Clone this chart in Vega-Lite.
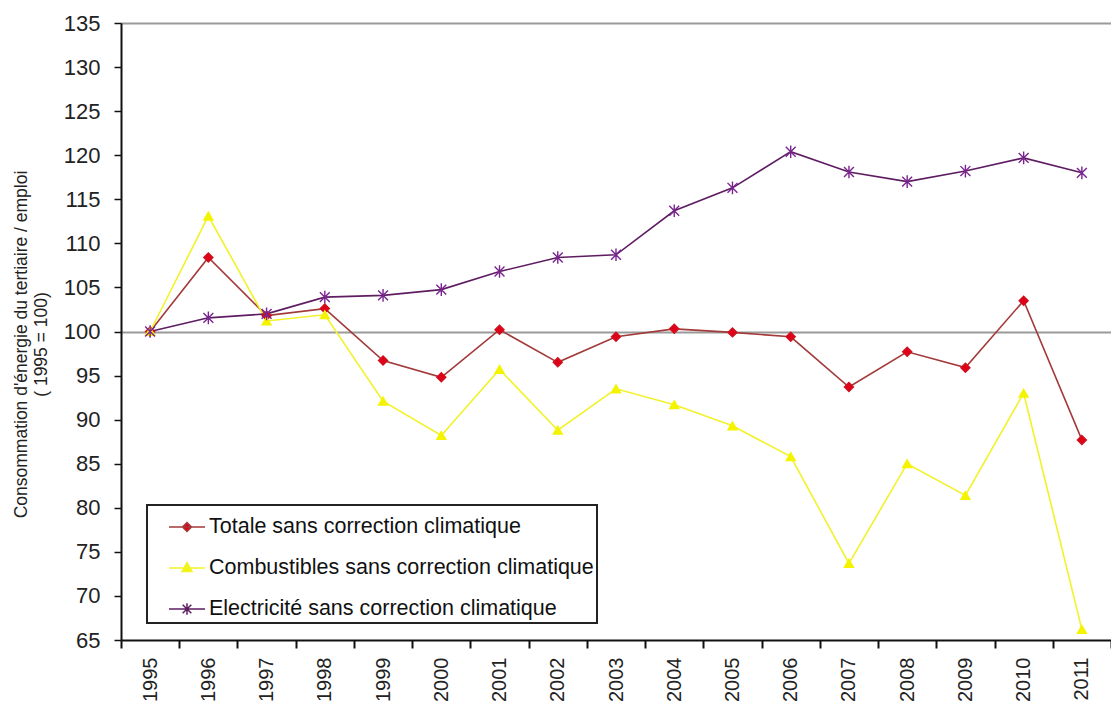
{
  "$schema": "https://vega.github.io/schema/vega-lite/v6.json",
  "width": 990,
  "height": 617,
  "autosize": "none",
  "padding": {"left": 121, "top": 23, "right": 0, "bottom": 69},
  "background": "white",
  "config": {
    "view": {"stroke": null},
    "font": "Liberation Sans",
    "legend": {"strokeColor": "#222", "strokeWidth": 2}
  },
  "data": {
    "values": [
      {"year": "1995", "serie": "Totale sans correction climatique", "value": 100},
      {"year": "1996", "serie": "Totale sans correction climatique", "value": 108.4},
      {"year": "1997", "serie": "Totale sans correction climatique", "value": 101.8},
      {"year": "1998", "serie": "Totale sans correction climatique", "value": 102.6},
      {"year": "1999", "serie": "Totale sans correction climatique", "value": 96.7},
      {"year": "2000", "serie": "Totale sans correction climatique", "value": 94.8},
      {"year": "2001", "serie": "Totale sans correction climatique", "value": 100.2},
      {"year": "2002", "serie": "Totale sans correction climatique", "value": 96.5},
      {"year": "2003", "serie": "Totale sans correction climatique", "value": 99.4},
      {"year": "2004", "serie": "Totale sans correction climatique", "value": 100.3},
      {"year": "2005", "serie": "Totale sans correction climatique", "value": 99.9},
      {"year": "2006", "serie": "Totale sans correction climatique", "value": 99.4},
      {"year": "2007", "serie": "Totale sans correction climatique", "value": 93.7},
      {"year": "2008", "serie": "Totale sans correction climatique", "value": 97.7},
      {"year": "2009", "serie": "Totale sans correction climatique", "value": 95.9},
      {"year": "2010", "serie": "Totale sans correction climatique", "value": 103.5},
      {"year": "2011", "serie": "Totale sans correction climatique", "value": 87.7},
      {"year": "1995", "serie": "Combustibles sans correction climatique", "value": 100},
      {"year": "1996", "serie": "Combustibles sans correction climatique", "value": 113.1},
      {"year": "1997", "serie": "Combustibles sans correction climatique", "value": 101.2},
      {"year": "1998", "serie": "Combustibles sans correction climatique", "value": 101.9},
      {"year": "1999", "serie": "Combustibles sans correction climatique", "value": 92.1},
      {"year": "2000", "serie": "Combustibles sans correction climatique", "value": 88.2},
      {"year": "2001", "serie": "Combustibles sans correction climatique", "value": 95.7},
      {"year": "2002", "serie": "Combustibles sans correction climatique", "value": 88.8},
      {"year": "2003", "serie": "Combustibles sans correction climatique", "value": 93.5},
      {"year": "2004", "serie": "Combustibles sans correction climatique", "value": 91.7},
      {"year": "2005", "serie": "Combustibles sans correction climatique", "value": 89.3},
      {"year": "2006", "serie": "Combustibles sans correction climatique", "value": 85.8},
      {"year": "2007", "serie": "Combustibles sans correction climatique", "value": 73.7},
      {"year": "2008", "serie": "Combustibles sans correction climatique", "value": 85.0},
      {"year": "2009", "serie": "Combustibles sans correction climatique", "value": 81.4},
      {"year": "2010", "serie": "Combustibles sans correction climatique", "value": 93.0},
      {"year": "2011", "serie": "Combustibles sans correction climatique", "value": 66.2},
      {"year": "1995", "serie": "Electricité sans correction climatique", "value": 100},
      {"year": "1996", "serie": "Electricité sans correction climatique", "value": 101.55},
      {"year": "1997", "serie": "Electricité sans correction climatique", "value": 102.0},
      {"year": "1998", "serie": "Electricité sans correction climatique", "value": 103.9},
      {"year": "1999", "serie": "Electricité sans correction climatique", "value": 104.1},
      {"year": "2000", "serie": "Electricité sans correction climatique", "value": 104.75},
      {"year": "2001", "serie": "Electricité sans correction climatique", "value": 106.8},
      {"year": "2002", "serie": "Electricité sans correction climatique", "value": 108.4},
      {"year": "2003", "serie": "Electricité sans correction climatique", "value": 108.7},
      {"year": "2004", "serie": "Electricité sans correction climatique", "value": 113.7},
      {"year": "2005", "serie": "Electricité sans correction climatique", "value": 116.3},
      {"year": "2006", "serie": "Electricité sans correction climatique", "value": 120.4},
      {"year": "2007", "serie": "Electricité sans correction climatique", "value": 118.1},
      {"year": "2008", "serie": "Electricité sans correction climatique", "value": 117.0},
      {"year": "2009", "serie": "Electricité sans correction climatique", "value": 118.2},
      {"year": "2010", "serie": "Electricité sans correction climatique", "value": 119.7},
      {"year": "2011", "serie": "Electricité sans correction climatique", "value": 118.0}
    ]
  },
  "encoding": {
    "x": {
      "field": "year",
      "type": "ordinal",
      "bandPosition": 0.5,
      "scale": {"type": "band", "paddingInner": 0, "paddingOuter": 0},
      "axis": {
        "title": null,
        "labelAngle": -90,
        "labelFontSize": 20,
        "labelColor": "#222",
        "tickBand": "extent",
        "tickSize": 8,
        "tickColor": "#111",
        "tickWidth": 2,
        "domainColor": "#111",
        "domainWidth": 2,
        "labelPadding": 9,
        "grid": false
      }
    },
    "y": {
      "field": "value",
      "type": "quantitative",
      "scale": {"domain": [65, 135], "nice": false, "zero": false},
      "axis": {
        "values": [65, 70, 75, 80, 85, 90, 95, 100, 105, 110, 115, 120, 125, 130, 135],
        "title": ["Consommation d'énergie du tertiaire / emploi", "( 1995 = 100)"],
        "titleFontSize": 17.5,
        "titleFontWeight": "normal",
        "titleColor": "#222",
        "titleLineHeight": 20,
        "titleAngle": 270,
        "titleAlign": "center",
        "titleBaseline": "top",
        "titleX": -109,
        "titleY": 321,
        "labelFontSize": 22,
        "labelColor": "#222",
        "labelPadding": 14,
        "tickSize": 7,
        "tickColor": "#111",
        "tickWidth": 1.5,
        "domainColor": "#111",
        "domainWidth": 2,
        "grid": true,
        "gridColor": "#9a9a9a",
        "gridWidth": 2,
        "gridOpacity": {"condition": {"test": "datum.value === 100 || datum.value === 135", "value": 1}, "value": 0}
      }
    }
  },
  "layer": [
    {
      "mark": {"type": "line", "strokeWidth": 1.6},
      "encoding": {
        "stroke": {
          "field": "serie",
          "type": "nominal",
          "scale": {
            "domain": ["Totale sans correction climatique", "Combustibles sans correction climatique", "Electricité sans correction climatique"],
            "range": ["#A33A3A", "#F2F22A", "#5E1D62"]
          },
          "legend": null
        }
      }
    },
    {
      "mark": {"type": "point", "filled": true, "strokeWidth": 1.4, "size": 81, "opacity": 1},
      "encoding": {
        "fill": {
          "field": "serie",
          "type": "nominal",
          "scale": {
            "domain": ["Totale sans correction climatique", "Combustibles sans correction climatique", "Electricité sans correction climatique"],
            "range": ["#E0001B", "#F4F400", "#8B2C9E"]
          },
          "legend": null
        },
        "stroke": {
          "field": "serie",
          "type": "nominal",
          "scale": {
            "domain": ["Totale sans correction climatique", "Combustibles sans correction climatique", "Electricité sans correction climatique"],
            "range": ["#D0101B", "#F4F400", "#7A2490"]
          },
          "legend": null
        },
        "shape": {
          "field": "serie",
          "type": "nominal",
          "scale": {
            "domain": ["Totale sans correction climatique", "Combustibles sans correction climatique", "Electricité sans correction climatique"],
            "range": ["diamond", "triangle-up", "M-1.1,-1.1L1.1,1.1M-1.1,1.1L1.1,-1.1M0,-1.4L0,1.4"]
          },
          "legend": null
        }
      }
    },
    {
      "transform": [{"filter": "datum.value > 1000"}],
      "mark": {"type": "point", "filled": true, "strokeWidth": 1.5, "opacity": 1},
      "encoding": {
        "fill": {
          "field": "serie",
          "type": "nominal",
          "scale": {
            "domain": ["Totale sans correction climatique", "Combustibles sans correction climatique", "Electricité sans correction climatique"],
            "range": ["#E0001B", "#F4F400", "#8B2C9E"]
          },
          "legend": {
            "title": null,
            "orient": "none",
            "legendX": 26,
            "legendY": 482,
            "padding": 3,
            "symbolOffset": 18,
            "labelOffset": 3,
            "rowPadding": 11,
            "labelFontSize": 21.5,
            "labelColor": "#111",
            "labelLimit": 600,
            "symbolSize": 1300,
            "symbolStrokeWidth": 1.5,
            "strokeColor": "#222"
          }
        },
        "stroke": {
          "field": "serie",
          "type": "nominal",
          "scale": {
            "domain": ["Totale sans correction climatique", "Combustibles sans correction climatique", "Electricité sans correction climatique"],
            "range": ["#A33A3A", "#F2F22A", "#5E1D62"]
          },
          "legend": {
            "title": null,
            "orient": "none",
            "legendX": 26,
            "legendY": 482,
            "padding": 3,
            "symbolOffset": 18,
            "labelOffset": 3,
            "rowPadding": 11,
            "labelFontSize": 21.5,
            "labelColor": "#111",
            "labelLimit": 600,
            "symbolSize": 1300,
            "symbolStrokeWidth": 1.5,
            "strokeColor": "#222"
          }
        },
        "shape": {
          "field": "serie",
          "type": "nominal",
          "scale": {
            "domain": ["Totale sans correction climatique", "Combustibles sans correction climatique", "Electricité sans correction climatique"],
            "range": [
              "M-1,0L1,0M0,-0.25L0.25,0L0,0.25L-0.25,0Z",
              "M-1,0L1,0M0,-0.3L0.28,0.2L-0.28,0.2Z",
              "M-1,0L1,0M-0.24,-0.24L0.24,0.24M-0.24,0.24L0.24,-0.24M0,-0.32L0,0.32"
            ]
          },
          "legend": {
            "title": null,
            "orient": "none",
            "legendX": 26,
            "legendY": 482,
            "padding": 3,
            "symbolOffset": 18,
            "labelOffset": 3,
            "rowPadding": 11,
            "labelFontSize": 21.5,
            "labelColor": "#111",
            "labelLimit": 600,
            "symbolSize": 1300,
            "symbolStrokeWidth": 1.5,
            "strokeColor": "#222"
          }
        }
      }
    }
  ],
  "resolve": {"scale": {"stroke": "independent", "fill": "independent", "shape": "independent"}}
}
